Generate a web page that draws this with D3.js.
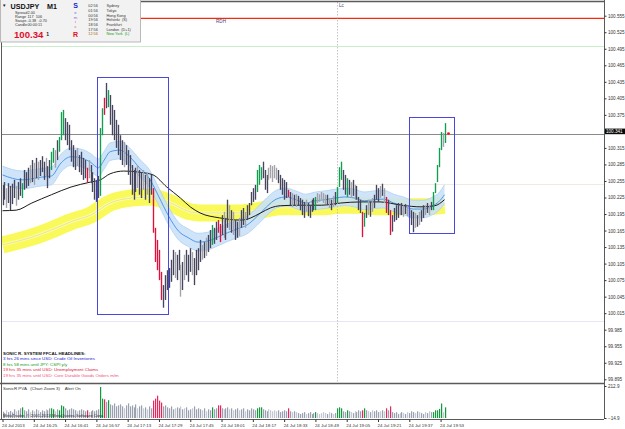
<!DOCTYPE html>
<html>
<head>
<meta charset="utf-8">
<script src="https://cdn.jsdelivr.net/npm/d3@7"></script>
<style>
  body { margin: 0; background: #fff; }
  svg { display: block; font-family: "Liberation Sans", Arial, sans-serif; }
</style>
</head>
<body>
<script>
// ---- data (USDJPY M1, 24 Jul 2013, bars from 16:09) ----
const barHigh = [
  100.248, 100.253, 100.242, 100.251, 100.246, 100.250, 100.257, 100.246, 100.253, 100.260,
  100.251, 100.275, 100.271, 100.279, 100.284, 100.293, 100.288, 100.297, 100.290, 100.293,
  100.300, 100.290, 100.297, 100.282, 100.293, 100.308, 100.315, 100.311, 100.329, 100.335,
  100.380, 100.384, 100.369, 100.362, 100.357, 100.329, 100.320, 100.311, 100.315, 100.302,
  100.308, 100.297, 100.293, 100.279, 100.293, 100.284, 100.271, 100.260, 100.257, 100.264,
  100.351, 100.387, 100.406, 100.433, 100.420, 100.411, 100.393, 100.384, 100.366, 100.357,
  100.338, 100.329, 100.326, 100.320, 100.311, 100.302, 100.284, 100.275, 100.279, 100.284,
  100.275, 100.271, 100.275, 100.266, 100.271, 100.260, 100.266, 100.242, 100.170, 100.148,
  100.130, 100.090, 100.066, 100.084, 100.093, 100.097, 100.112, 100.130, 100.126, 100.121,
  100.130, 100.103, 100.108, 100.121, 100.130, 100.121, 100.133, 100.126, 100.115, 100.130,
  100.133, 100.148, 100.139, 100.144, 100.152, 100.157, 100.166, 100.175, 100.170, 100.181,
  100.184, 100.177, 100.193, 100.199, 100.188, 100.221, 100.211, 100.202, 100.199, 100.184,
  100.181, 100.188, 100.202, 100.206, 100.199, 100.211, 100.215, 100.235, 100.242, 100.248,
  100.275, 100.284, 100.280, 100.290, 100.275, 100.266, 100.279, 100.284, 100.282, 100.284,
  100.279, 100.275, 100.266, 100.260, 100.257, 100.253, 100.239, 100.235, 100.233, 100.230,
  100.231, 100.228, 100.224, 100.221, 100.217, 100.221, 100.215, 100.211, 100.221, 100.224,
  100.226, 100.233, 100.231, 100.235, 100.233, 100.230, 100.230, 100.224, 100.221, 100.228,
  100.235, 100.244, 100.280, 100.290, 100.275, 100.266, 100.260, 100.257, 100.253, 100.257,
  100.248, 100.246, 100.226, 100.221, 100.199, 100.197, 100.211, 100.221, 100.217, 100.224,
  100.230, 100.248, 100.242, 100.246, 100.250, 100.242, 100.226, 100.221, 100.202, 100.193,
  100.206, 100.211, 100.215, 100.211, 100.215, 100.211, 100.213, 100.210, 100.206, 100.202,
  100.199, 100.197, 100.193, 100.199, 100.202, 100.211, 100.211, 100.215, 100.211, 100.217,
  100.235, 100.251, 100.284, 100.315, 100.344, 100.342, 100.360
];
const barLow = [
  100.211, 100.221, 100.206, 100.215, 100.202, 100.213, 100.224, 100.210, 100.221, 100.228,
  100.224, 100.239, 100.242, 100.246, 100.251, 100.253, 100.248, 100.260, 100.257, 100.264,
  100.271, 100.257, 100.264, 100.242, 100.260, 100.275, 100.288, 100.279, 100.293, 100.308,
  100.329, 100.338, 100.329, 100.320, 100.311, 100.290, 100.280, 100.275, 100.282, 100.271,
  100.266, 100.257, 100.260, 100.253, 100.260, 100.251, 100.235, 100.221, 100.217, 100.224,
  100.228, 100.338, 100.375, 100.387, 100.389, 100.357, 100.338, 100.329, 100.315, 100.302,
  100.293, 100.284, 100.280, 100.284, 100.266, 100.248, 100.230, 100.221, 100.235, 100.242,
  100.230, 100.224, 100.239, 100.221, 100.230, 100.215, 100.230, 100.161, 100.108, 100.093,
  100.075, 100.039, 100.025, 100.039, 100.057, 100.061, 100.072, 100.084, 100.079, 100.075,
  100.093, 100.045, 100.057, 100.075, 100.084, 100.072, 100.090, 100.084, 100.066, 100.084,
  100.093, 100.108, 100.112, 100.115, 100.119, 100.126, 100.133, 100.139, 100.141, 100.148,
  100.161, 100.144, 100.157, 100.152, 100.148, 100.170, 100.166, 100.161, 100.157, 100.148,
  100.152, 100.155, 100.170, 100.175, 100.170, 100.184, 100.193, 100.211, 100.217, 100.221,
  100.235, 100.248, 100.257, 100.260, 100.239, 100.233, 100.257, 100.260, 100.253, 100.260,
  100.257, 100.251, 100.239, 100.230, 100.221, 100.224, 100.226, 100.211, 100.208, 100.211,
  100.208, 100.210, 100.202, 100.193, 100.188, 100.199, 100.191, 100.188, 100.199, 100.202,
  100.202, 100.215, 100.217, 100.221, 100.215, 100.213, 100.211, 100.206, 100.202, 100.208,
  100.211, 100.215, 100.244, 100.257, 100.239, 100.230, 100.226, 100.230, 100.224, 100.228,
  100.221, 100.221, 100.202, 100.197, 100.153, 100.172, 100.188, 100.193, 100.190, 100.199,
  100.206, 100.221, 100.217, 100.224, 100.228, 100.215, 100.197, 100.193, 100.157, 100.163,
  100.181, 100.184, 100.188, 100.193, 100.193, 100.190, 100.195, 100.191, 100.188, 100.175,
  100.162, 100.170, 100.172, 100.175, 100.181, 100.188, 100.193, 100.197, 100.193, 100.202,
  100.202, 100.233, 100.253, 100.280, 100.311, 100.317, 100.324
];
// d = normal, l = low volume, g = bull climax, r = bear climax
const barType =
  'ddlddddldd' + 'gdddldldld' + 'ddlddggldg' + 'ggddddddld' + 'dddrlddddd' +
  'ggrdgddddd' + 'ddlddddddl' + 'ddldlddrrr' + 'rrddddddld' + 'dldldddldd' +
  'ddldlddgdd' + 'rrdlddldld' + 'dlddlddddd' + 'gggdddllll' + 'ldddddrdld' +
  'lddddldddd' + 'gllllldldl' + 'dgggddgdld' + 'ldddrgdldl' + 'dddldlrdrd' +
  'dddldldldd' + 'dldlddldld' + 'ggggglg';
const volume = [
  30, 20, 40, 27, 35, 25, 47, 33, 40, 54,   61, 40, 33, 47, 27, 40, 33, 47, 40, 27,
  40, 33, 47, 40, 54, 54, 47, 33, 47, 40,   75, 68, 54, 40, 47, 54, 47, 40, 33, 40,
  47, 40, 33, 40, 27, 33, 40, 33, 40, 47,   206, 123, 118, 100, 112, 82, 75, 89, 68, 75,
  82, 68, 54, 75, 89, 68, 75, 61, 82, 54,   68, 75, 54, 61, 47, 68, 54, 109, 123, 144,
  109, 95, 68, 75, 61, 54, 68, 47, 54, 61,  54, 68, 47, 54, 61, 40, 47, 54, 68, 47,
  54, 47, 40, 54, 33, 47, 40, 61, 47, 54,   75, 75, 54, 47, 54, 61, 47, 54, 40, 47,
  54, 40, 47, 54, 33, 47, 40, 54, 47, 40,   54, 61, 61, 47, 40, 33, 47, 40, 33, 40,
  33, 40, 27, 33, 40, 33, 54, 33, 27, 33,   27, 20, 13, 20, 27, 13, 20, 27, 13, 20,
  27, 20, 13, 20, 27, 20, 13, 27, 20, 13,   20, 54, 61, 54, 33, 27, 40, 33, 27, 20,
  33, 27, 40, 33, 40, 54, 40, 33, 27, 40,   33, 40, 27, 33, 40, 33, 54, 40, 68, 27,
  20, 27, 13, 20, 27, 20, 13, 27, 20, 33,   27, 20, 33, 27, 20, 13, 27, 20, 33, 27,
  27, 40, 40, 50, 88, 27, 61
];

// SonicR dragon (EMA34 high / close / low), sampled at bar indexes
const dragonIdx = [0, 10, 20, 25, 30, 35, 40, 45, 49, 52, 55, 60, 65, 70, 75, 80, 85, 90, 95, 100,
  105, 110, 115, 120, 125, 130, 135, 140, 145, 150, 155, 160, 165, 170, 175, 180, 185, 190, 195, 200,
  205, 210, 215, 220, 223, 226];
const dragonMid = [100.266, 100.257, 100.262, 100.264, 100.288, 100.299, 100.297, 100.289, 100.279, 100.293,
  100.308, 100.311, 100.299, 100.279, 100.260, 100.226, 100.191, 100.164, 100.152, 100.144,
  100.146, 100.153, 100.161, 100.168, 100.175, 100.190, 100.208, 100.222, 100.226, 100.221,
  100.215, 100.219, 100.221, 100.224, 100.226, 100.224, 100.219, 100.221, 100.222, 100.215,
  100.210, 100.204, 100.204, 100.210, 100.217, 100.230];
const dragonHigh = [100.282, 100.273, 100.278, 100.280, 100.304, 100.315, 100.313, 100.305, 100.295, 100.309,
  100.324, 100.327, 100.315, 100.295, 100.276, 100.242, 100.207, 100.180, 100.168, 100.160,
  100.162, 100.169, 100.177, 100.184, 100.191, 100.206, 100.224, 100.238, 100.242, 100.237,
  100.231, 100.235, 100.237, 100.240, 100.242, 100.240, 100.235, 100.237, 100.238, 100.231,
  100.226, 100.220, 100.220, 100.226, 100.233, 100.248];
const dragonLow = [100.250, 100.241, 100.246, 100.248, 100.272, 100.283, 100.281, 100.273, 100.263, 100.277,
  100.292, 100.295, 100.283, 100.263, 100.244, 100.210, 100.175, 100.148, 100.136, 100.128,
  100.130, 100.137, 100.145, 100.152, 100.159, 100.174, 100.192, 100.206, 100.210, 100.205,
  100.199, 100.203, 100.205, 100.208, 100.210, 100.208, 100.203, 100.205, 100.206, 100.199,
  100.194, 100.188, 100.188, 100.194, 100.201, 100.214];

// EMA89 trend line
const trendIdx = [0, 7, 15, 25, 35, 45, 50, 55, 62, 70, 77, 84, 91, 96, 101, 111, 122, 127, 132, 137,
  142, 152, 163, 173, 183, 193, 204, 214, 221, 226];
const trendVal = [100.201, 100.202, 100.215, 100.230, 100.244, 100.253, 100.257, 100.268, 100.273, 100.271,
  100.266, 100.244, 100.224, 100.208, 100.197, 100.188, 100.184, 100.188, 100.197, 100.206,
  100.210, 100.211, 100.211, 100.215, 100.217, 100.217, 100.211, 100.208, 100.210, 100.221];

// EMA200 wide band
const emaIdx = [0, 15, 25, 35, 45, 55, 66, 76, 86, 96, 101, 112, 122, 132, 142, 153, 163, 173, 183, 193, 203, 214, 226];
const emaVal = [100.139, 100.153, 100.166, 100.181, 100.193, 100.215, 100.224, 100.226, 100.215, 100.199,
  100.197, 100.197, 100.197, 100.202, 100.208, 100.208, 100.208, 100.211, 100.211, 100.208,
  100.208, 100.208, 100.211];

const priceTicks = [100.555, 100.525, 100.495, 100.465, 100.435, 100.405, 100.375, 100.345, 100.315,
  100.285, 100.255, 100.225, 100.195, 100.165, 100.135, 100.105, 100.075, 100.045, 100.015,
  99.985, 99.955, 99.925, 99.895];
const timeTicks = ['16:09', '16:25', '16:41', '16:57', '17:13', '17:29', '17:45', '18:01', '18:17',
  '18:33', '18:49', '19:05', '19:21', '19:37', '19:53'];
const timeLabels = ['24 Jul 2013', '24 Jul 16:25', '24 Jul 16:41', '24 Jul 16:57', '24 Jul 17:13',
  '24 Jul 17:29', '24 Jul 17:45', '24 Jul 18:01', '24 Jul 18:17', '24 Jul 18:33', '24 Jul 18:49',
  '24 Jul 19:05', '24 Jul 19:21', '24 Jul 19:37', '24 Jul 19:53'];
const volTicks = [212.9, -14.9];

const lastPrice = 100.341;
const rdhPrice = 100.550;
const levels = [
  { price: 100.500, color: '#c9efc9' },
  { price: 100.250, color: '#efebdf' },
  { price: 100.000, color: '#e6e6f6' }
];
const boxes = [
  { from: '16:57:30', to: '17:33:40', top: 100.444, bottom: 100.014 },
  { from: '19:37:00', to: '20:00:00', top: 100.372, bottom: 100.160 }
];
const lcTime = '19:00';

const headlines = [
  { text: 'SONIC R. SYSTEM  FFCAL HEADLINES:', color: '#111', bold: true },
  { text: '3 hrs 26 mins since USD: Crude Oil Inventories', color: '#1a1ad0' },
  { text: '8 hrs 58 mins until JPY: CSPI y/y', color: '#109a10' },
  { text: '19 hrs 35 mins until USD: Unemployment Claims', color: '#e0203c' },
  { text: '19 hrs 35 mins until USD: Core Durable Goods Orders m/m', color: '#f0507a' }
];
const infoRows = [['Spread', '2.00'], ['Range', '117  106'], ['Swaps', '-0.38  -0.70'], ['Candle', '00:00:11']];
const sessions = [
  ['02:56', 'Sydney'], ['01:56', 'Tokyo'], ['00:56', 'Hong Kong'], ['19:56', 'Helsinki  (S)'],
  ['18:56', 'Frankfurt'], ['17:56', 'London  (D+1)'], ['12:56', 'New York  (L)']
];
const semic = [['S', '#1a1ad0'], ['e', '#6a6ae0'], ['m', '#9a60d0'], ['i', '#d040b0'], ['c', '#e04070'], ['R', '#e01020']];

// ---- layout ----
const width = 625;
const height = 429;
const left = 2;
const axisX = 604;
const mainTop = 2;
const mainBottom = 383;
const volTop = 385;
const volBottom = 419;

const colors = { d: '#45455f', l: '#a2a2aa', g: '#0f9f4e', r: '#e0103c' };
const volColors = { d: '#9aa0b0', l: '#c4c8d2', g: '#139a3f', r: '#e8245a' };

const parse = d3.timeParse('%Y-%m-%d %H:%M:%S');
const day = '2013-07-24 ';
const at = s => parse(day + (s.length === 5 ? s + ':00' : s));
const start = at('16:09');
const barTime = i => d3.timeMinute.offset(start, i);

const svg = d3.select('body').append('svg').attr('width', width).attr('height', height);

const x = d3.scaleTime().domain([start, barTime(226)]).range([2.5, 444.5]);
const y = d3.scaleLinear().domain([99.895, 100.555]).range([379.3, 15.7]);
const vy = d3.scaleLinear().domain([-14.9, 212.9]).range([volBottom - 1, volTop + 1]);

svg.append('defs').append('clipPath').attr('id', 'mainClip')
  .append('rect').attr('x', left).attr('y', mainTop).attr('width', axisX - left).attr('height', mainBottom - mainTop);

const main = svg.append('g').attr('clip-path', 'url(#mainClip)');

// round-number levels
main.selectAll('line.level').data(levels).join('line')
  .attr('x1', left).attr('x2', axisX)
  .attr('y1', d => Math.round(y(d.price)) + 0.5).attr('y2', d => Math.round(y(d.price)) + 0.5)
  .attr('stroke', d => d.color).attr('stroke-width', 1);

// EMA200 yellow band
const emaPts = emaIdx.map((k, j) => [x(barTime(k)), y(emaVal[j])]);
const curve = d3.line().curve(d3.curveMonotoneX);
main.append('path').attr('d', curve(emaPts)).attr('fill', 'none')
  .attr('stroke', '#f9f95a').attr('stroke-width', 17);
main.append('path').attr('d', curve(emaPts)).attr('fill', 'none')
  .attr('stroke', '#fbfba8').attr('stroke-width', 3);
main.append('path').attr('d', curve(emaPts)).attr('fill', 'none')
  .attr('stroke', '#dcdc8c').attr('stroke-width', 0.7);

// dragon band
const dragonArea = d3.area().curve(d3.curveMonotoneX)
  .x((k) => x(barTime(k)))
  .y0((k, j) => y(dragonLow[j]))
  .y1((k, j) => y(dragonHigh[j]));
main.append('path').attr('d', dragonArea(dragonIdx))
  .attr('fill', '#c8e0f8').attr('fill-opacity', 0.88);
[dragonHigh, dragonLow].forEach(arr => {
  main.append('path').attr('d', curve(dragonIdx.map((k, j) => [x(barTime(k)), y(arr[j])])))
    .attr('fill', 'none').attr('stroke', '#add0f2').attr('stroke-width', 0.8);
});
main.append('path').attr('d', curve(dragonIdx.map((k, j) => [x(barTime(k)), y(dragonMid[j])])))
  .attr('fill', 'none').attr('stroke', '#3d8fe8').attr('stroke-width', 0.9);

// EMA89
main.append('path').attr('d', curve(trendIdx.map((k, j) => [x(barTime(k)), y(trendVal[j])])))
  .attr('fill', 'none').attr('stroke', '#1a1a1a').attr('stroke-width', 1);

// last price line
main.append('line')
  .attr('x1', left).attr('x2', axisX)
  .attr('y1', Math.round(y(lastPrice)) + 0.5).attr('y2', Math.round(y(lastPrice)) + 0.5)
  .attr('stroke', '#8a8a8a').attr('stroke-width', 1);

// RDH line
main.append('line')
  .attr('x1', 141).attr('x2', axisX)
  .attr('y1', y(rdhPrice)).attr('y2', y(rdhPrice))
  .attr('stroke', '#f52a10').attr('stroke-width', 1.3);
main.append('text').attr('x', 216).attr('y', y(rdhPrice) + 5)
  .attr('font-size', 4.6).attr('fill', '#44447a').text('RDH');

// Lc vertical line
const lcX = Math.round(x(at(lcTime))) + 0.5;
main.append('line').attr('x1', lcX).attr('x2', lcX).attr('y1', mainTop).attr('y2', mainBottom)
  .attr('stroke', '#b8b8b8').attr('stroke-width', 0.8).attr('stroke-dasharray', '1.5,1.5');
main.append('text').attr('x', lcX + 1.5).attr('y', 7)
  .attr('font-size', 4.6).attr('fill', '#44447a').text('Lc');

// price bars
main.selectAll('line.bar').data(barHigh).join('line').attr('class', 'bar')
  .attr('x1', (d, i) => Math.round(x(barTime(i))) + 0.5)
  .attr('x2', (d, i) => Math.round(x(barTime(i))) + 0.5)
  .attr('y1', d => y(d))
  .attr('y2', (d, i) => y(barLow[i]))
  .attr('stroke', (d, i) => colors[barType[i]])
  .attr('stroke-width', 1.35);

// boxes
main.selectAll('rect.box').data(boxes).join('rect').attr('class', 'box')
  .attr('x', d => Math.round(x(at(d.from))) + 0.5)
  .attr('y', d => Math.round(y(d.top)) + 0.5)
  .attr('width', d => Math.round(x(at(d.to))) - Math.round(x(at(d.from))))
  .attr('height', d => Math.round(y(d.bottom)) - Math.round(y(d.top)))
  .attr('fill', 'none').attr('stroke', '#4848e0').attr('stroke-width', 1);

// last tick marker
main.append('circle').attr('cx', x(barTime(226)) + 4).attr('cy', y(lastPrice)).attr('r', 1.4).attr('fill', '#ff1010');

// headlines
main.selectAll('text.head').data(headlines).join('text').attr('class', 'head')
  .attr('x', 3).attr('y', (d, i) => 354.5 + i * 5.5)
  .attr('font-size', 4.4).attr('font-weight', d => d.bold ? 'bold' : 'normal')
  .attr('fill', d => d.color).text(d => d.text);

// volume panel
const vol = svg.append('g');
vol.selectAll('rect.vol').data(volume).join('rect').attr('class', 'vol')
  .attr('x', (d, i) => Math.round(x(barTime(i))))
  .attr('y', d => vy(d))
  .attr('width', 1.2)
  .attr('height', d => vy(-14.9) - vy(d))
  .attr('fill', (d, i) => volColors[barType[i]]);
vol.append('text').attr('x', 3).attr('y', 390).attr('font-size', 4.4).attr('fill', '#333')
  .attr('xml:space', 'preserve').text('SonicR PVA   (Chart Zoom 3)    Alert On');
vol.append('text').attr('x', 3).attr('y', 417).attr('font-size', 4.2).attr('fill', '#333')
  .text('MetaTrader, \u00a9 2001-2013 MetaQuotes Software Corp.');

// frame
const frame = svg.append('g').attr('fill', 'none');
frame.append('line').attr('x1', 141).attr('x2', axisX).attr('y1', 1.5).attr('y2', 1.5).attr('stroke', '#5a5a5a').attr('stroke-width', 1.3);
frame.append('line').attr('x1', 1.5).attr('x2', 1.5).attr('y1', 0).attr('y2', volBottom).attr('stroke', '#5a5a5a');
frame.append('line').attr('x1', 0).attr('x2', axisX).attr('y1', mainBottom + 0.5).attr('y2', mainBottom + 0.5).attr('stroke', '#5a5a5a').attr('stroke-width', 1.6);
frame.append('line').attr('x1', 0).attr('x2', axisX).attr('y1', volBottom + 0.5).attr('y2', volBottom + 0.5).attr('stroke', '#5a5a5a');

// price axis (the 100.345 label sits under the last price tag)
const yAxis = svg.append('g').attr('transform', `translate(${axisX + 0.5},0)`)
  .call(d3.axisRight(y).tickValues(priceTicks)
    .tickFormat(d => Math.abs(d - lastPrice) < 0.01 ? '' : d3.format('.3f')(d))
    .tickSize(2).tickPadding(1.5));
yAxis.select('.domain').attr('d', `M0,0V${mainBottom}`).attr('stroke', '#5a5a5a');
yAxis.selectAll('text').attr('font-size', 4.6).attr('fill', '#333').attr('font-family', 'Liberation Sans, Arial, sans-serif');
yAxis.selectAll('line').attr('stroke', '#333');

// last price tag
const tagY = y(lastPrice);
svg.append('rect').attr('x', axisX + 1).attr('y', tagY - 5).attr('width', 20).attr('height', 5.6).attr('fill', '#0a0a0a');
svg.append('text').attr('x', axisX + 2).attr('y', tagY - 0.6).attr('font-size', 4.6).attr('fill', '#fff').text(lastPrice.toFixed(3));

// volume axis
const vAxis = svg.append('g').attr('transform', `translate(${axisX + 0.5},0)`)
  .call(d3.axisRight(vy).tickValues(volTicks).tickFormat(d3.format('.1f')).tickSize(2).tickPadding(1.5));
vAxis.select('.domain').attr('d', `M0,${mainBottom}V${volBottom}`).attr('stroke', '#5a5a5a');
vAxis.selectAll('text').attr('font-size', 4.6).attr('fill', '#333').attr('font-family', 'Liberation Sans, Arial, sans-serif');
vAxis.selectAll('line').attr('stroke', '#333');

// time axis
const tAxis = svg.append('g').attr('transform', `translate(0,${volBottom + 0.5})`)
  .call(d3.axisBottom(x).tickValues(timeTicks.map(at)).tickFormat((d, i) => timeLabels[i]).tickSize(2.5).tickPadding(1));
tAxis.select('.domain').remove();
tAxis.selectAll('.tick line').attr('stroke', '#333');
tAxis.selectAll('.tick text').attr('text-anchor', 'start').attr('dx', -1).attr('dy', 0).attr('y', 7.8)
  .attr('font-size', 4.4).attr('fill', '#333').attr('font-family', 'Liberation Sans, Arial, sans-serif');

// info panel
const info = svg.append('g');
info.append('rect').attr('x', 0.5).attr('y', -1).attr('width', 140).attr('height', 43)
  .attr('fill', '#f2f2f2').attr('stroke', '#b9b9b9');
info.append('text').attr('x', 2).attr('y', 7).attr('font-size', 4.5).attr('fill', '#222').text('\u25bc');
info.append('text').attr('x', 10.5).attr('y', 8.5).attr('font-size', 7.2).attr('font-weight', 'bold')
  .attr('fill', '#111').attr('xml:space', 'preserve').text('USDJPY    M1');
info.selectAll('text.lab').data(infoRows).join('text').attr('class', 'lab')
  .attr('x', 15).attr('y', (d, i) => 13.8 + i * 4).attr('font-size', 3.8).attr('fill', '#333').text(d => d[0]);
info.selectAll('text.val').data(infoRows).join('text').attr('class', 'val')
  .attr('x', 27.5).attr('y', (d, i) => 13.8 + i * 4).attr('font-size', 3.8).attr('fill', '#333')
  .attr('xml:space', 'preserve').text(d => d[1]);
info.append('text').attr('x', 14).attr('y', 38.3).attr('font-size', 9.6).attr('font-weight', 'bold')
  .attr('fill', '#e0102c').text('100.34');
info.append('text').attr('x', 46.3).attr('y', 35.8).attr('font-size', 5).attr('font-weight', 'bold')
  .attr('fill', '#222').text('1');
info.selectAll('text.semic').data(semic).join('text').attr('class', 'semic')
  .attr('x', 75.5).attr('text-anchor', 'middle')
  .attr('y', (d, i) => i === 0 ? 8.4 : i === 5 ? 37.3 : 9.2 + i * 4.7)
  .attr('font-size', (d, i) => i === 0 || i === 5 ? 7 : 4.2)
  .attr('font-weight', (d, i) => i === 0 || i === 5 ? 'bold' : 'normal')
  .attr('fill', d => d[1]).text(d => d[0]);
info.selectAll('text.stime').data(sessions).join('text').attr('class', 'stime')
  .attr('x', 88.3).attr('y', (d, i) => 7.2 + i * 4.7).attr('font-size', 3.8)
  .attr('fill', (d, i) => i === 6 ? '#b05a10' : '#333').text(d => d[0]);
info.selectAll('text.sname').data(sessions).join('text').attr('class', 'sname')
  .attr('x', 106.5).attr('y', (d, i) => 7.2 + i * 4.7).attr('font-size', 3.8)
  .attr('fill', (d, i) => i === 6 ? '#10a010' : '#333')
  .attr('xml:space', 'preserve').text(d => d[1]);
</script>
</body>
</html>
